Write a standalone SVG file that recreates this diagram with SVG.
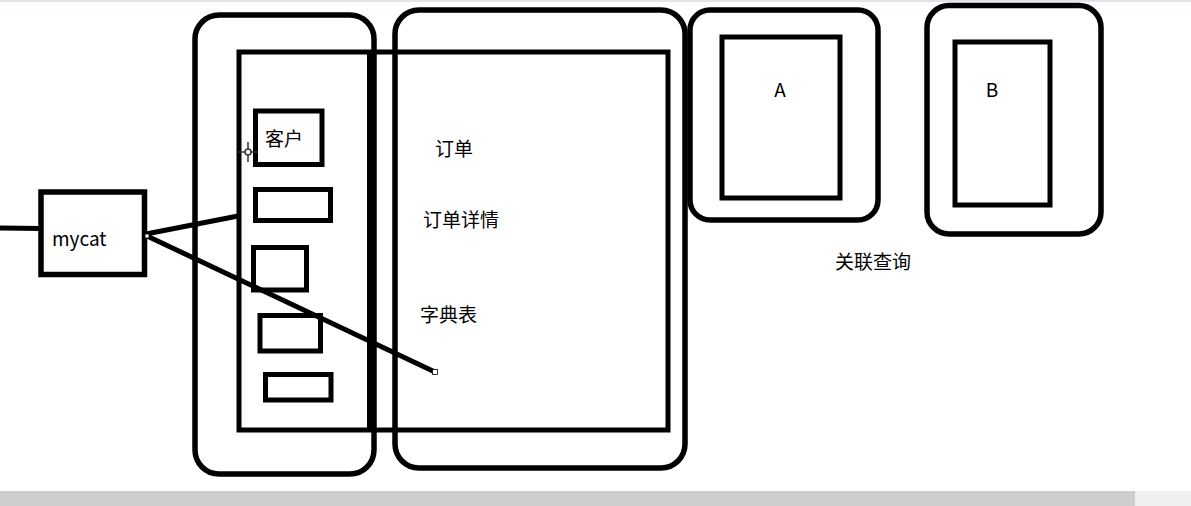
<svg xmlns="http://www.w3.org/2000/svg" width="1191" height="506" viewBox="0 0 1191 506">
<style>
.box{fill:none;stroke:#000;stroke-width:5.5}
.in{fill:none;stroke:#000;stroke-width:5}
.ln{stroke:#000;stroke-width:5;fill:none;stroke-linecap:butt}
.t{font-family:"Noto Sans CJK SC","Noto Sans",sans-serif;font-size:19px;fill:#000}
</style>
<rect x="0" y="0" width="1191" height="506" fill="#fff"/>
<rect x="0" y="0" width="1191" height="2" fill="#dfe4ea"/>
<g id="db-left">
<rect class="box" x="195" y="15" width="179" height="459" rx="24"/>
</g>
<g id="db-right">
<rect class="box" x="395" y="10" width="290" height="458" rx="24"/>
</g>
<g id="schema">
<rect class="in" x="239" y="52" width="429" height="378"/>
<line class="ln" x1="369.5" y1="52" x2="369.5" y2="430" stroke-width="4"/>
</g>
<g id="t-customer">
<rect class="in" x="255.5" y="111" width="66.5" height="53.5"/>
<text class="t" x="265" y="146">客户</text>
</g>
<g id="t2"><rect class="in" x="255.5" y="189.5" width="75" height="31"/></g>
<g id="t3"><rect class="in" x="253.5" y="247.5" width="53" height="42.5"/></g>
<g id="t4"><rect class="in" x="260" y="315.5" width="60.5" height="35.5"/></g>
<g id="t5"><rect class="in" x="265.5" y="374.5" width="65.5" height="25.5"/></g>
<g id="labels">
<text class="t" x="435" y="156">订单</text>
<text class="t" x="423" y="227">订单详情</text>
<text class="t" x="420" y="322">字典表</text>
</g>
<g id="node-a">
<rect class="box" x="690" y="10" width="188" height="210" rx="20"/>
<rect class="in" x="722" y="37" width="118" height="161"/>
<text class="t" x="780" y="97" text-anchor="middle" font-size="19">A</text>
</g>
<g id="node-b">
<rect class="box" x="927" y="5.5" width="174" height="228.5" rx="22"/>
<rect class="in" x="955" y="42" width="95" height="163"/>
<text class="t" x="992" y="97" text-anchor="middle">B</text>
</g>
<g id="join-label">
<text class="t" x="835" y="269">关联查询</text>
</g>
<g id="mycat">
<rect class="box" x="41" y="192" width="103.5" height="82.5"/>
<text class="t" x="52" y="246" font-size="20">mycat</text>
</g>
<g id="connectors">
<line class="ln" x1="0" y1="228" x2="41" y2="228.5"/>
<line class="ln" x1="146" y1="234" x2="238" y2="216"/>
<line class="ln" x1="147" y1="236" x2="435" y2="372"/>
<rect x="145" y="234" width="4" height="4" fill="#fff" stroke="#000" stroke-width="0.8"/>
<rect x="432.5" y="369.5" width="5" height="5" fill="#fff" stroke="#000" stroke-width="0.8"/>
</g>
<g id="cursor" stroke="#333" stroke-width="1.5">
<line x1="238" y1="152" x2="258" y2="152"/>
<line x1="248" y1="142" x2="248" y2="162"/>
<circle cx="248" cy="152" r="3" fill="#fff"/>
</g>
<rect x="0" y="491" width="1135" height="15" fill="#cdcdcd"/>
<rect x="1135" y="491" width="56" height="15" fill="#efefef"/>
</svg>
